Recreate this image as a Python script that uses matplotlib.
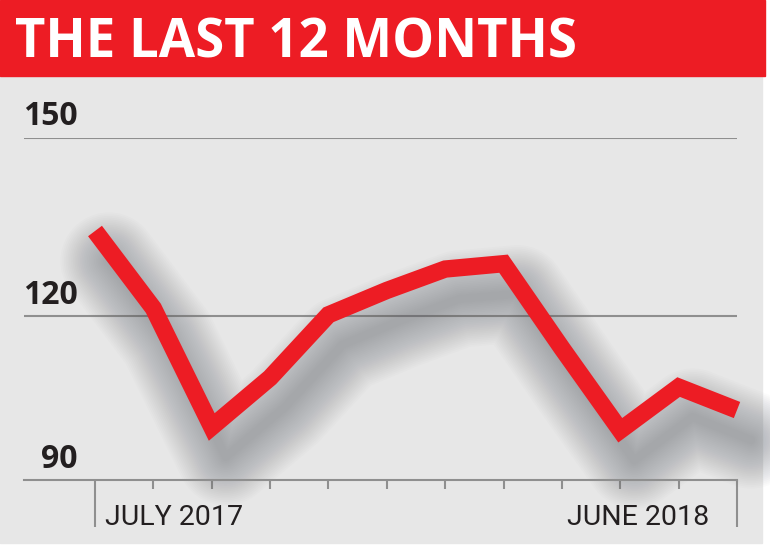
import numpy as np
import matplotlib
matplotlib.use("Agg")
import matplotlib.pyplot as plt
import matplotlib.transforms as mtransforms
from matplotlib.patches import Rectangle

# ---- data ----
title = "THE LAST 12 MONTHS"
months = list(range(12))          # Jul 2017 .. Jun 2018
values = [134.3, 121.3, 99.7, 108.7, 120.2, 124.3, 127.9, 128.8, 114.1, 99.1, 107.0, 102.8]
y_ticks = [150, 120, 90]
y_tick_labels = ["150", "120", "90"]
first_label = "JULY 2017"
last_label = "JUNE 2018"

RED = "#ed1c24"
BG = "#e7e7e7"
GRID = "#8f8f8f"
TXT = "#231f20"

W, H = 770, 548
fig = plt.figure(figsize=(W / 100, H / 100), dpi=100, facecolor="white")

# background panels
fig.patches.append(Rectangle((0, 1 - 543 / H), 762 / W, (543 - 76) / H,
                             transform=fig.transFigure, color=BG, zorder=-5))
fig.patches.append(Rectangle((0, 1 - 76 / H), 765 / W, 76 / H,
                             transform=fig.transFigure, color=RED, zorder=-5))

fig.text(15 / W, 1 - 57 / H, title, color="white", fontsize=38,
         fontweight="bold", family=["Open Sans", "DejaVu Sans"], va="baseline", ha="left")

# plot area
left_px, right_px, top_px, bot_px = 24, 737, 137.7, 480
ax = fig.add_axes([left_px / W, 1 - bot_px / H, (right_px - left_px) / W, (bot_px - top_px) / H])
ax.set_facecolor("none")
ax.set_zorder(2)

lo, hi = 164.0, 178.3   # drawn heights of 90-120 and 120-150 bands


def fwd(v):
    v = np.asarray(v, dtype=float)
    return np.where(v < 120, (v - 120) / 30 * lo, (v - 120) / 30 * hi)


def inv(p):
    p = np.asarray(p, dtype=float)
    return np.where(p < 0, p * 30 / lo + 120, p * 30 / hi + 120)


ax.set_yscale("function", functions=(fwd, inv))
ax.set_ylim(90, 150)
step = (right_px - 95) / 11
ax.set_xlim(-(95 - left_px) / step, 11)

for s in ["top", "right", "left"]:
    ax.spines[s].set_visible(False)
ax.spines["bottom"].set_color(GRID)
ax.spines["bottom"].set_linewidth(1.5)

ax.set_xticks([0, 11])
ax.set_xticks(months[1:-1], minor=True)
ax.tick_params(axis="x", which="major", length=34, width=1.5, color=GRID, labelbottom=False)
ax.tick_params(axis="x", which="minor", length=6.5, width=1.5, color=GRID, labelbottom=False)
ax.set_yticks([])

for v in y_ticks[:-1]:
    ax.axhline(v, color=GRID, lw=1.5, zorder=1)

# y labels
blend = mtransforms.blended_transform_factory(fig.transFigure, ax.transData)
for v, lab in zip(y_ticks, y_tick_labels):
    ax.annotate(lab, xy=(78 / W, v), xycoords=blend, xytext=(0, 9), textcoords="offset points",
                ha="right", va="baseline", fontsize=23, fontweight="bold",
                family=["Open Sans", "DejaVu Sans"], color=TXT, annotation_clip=False)

# x labels
xfont = ["Roboto", "Open Sans", "DejaVu Sans"]
ax.annotate(first_label, xy=(0, 90), xytext=(7.5, -32.5), textcoords="offset points",
            ha="left", va="baseline", fontsize=20.5, family=xfont, color=TXT, annotation_clip=False)
ax.annotate(last_label, xy=(11, 90), xytext=(-20, -32.5), textcoords="offset points",
            ha="right", va="baseline", fontsize=20.5, family=xfont, color=TXT, annotation_clip=False)

# soft shadow (stacked translucent strokes)
shadow_tr = ax.transData + mtransforms.ScaledTranslation(14 / 100, -30 / 100, fig.dpi_scale_trans)
for w in np.linspace(70, 6, 26):
    ax.plot(months, values, color="#6a6f78", lw=w, alpha=0.022, transform=shadow_tr,
            solid_joinstyle="round", solid_capstyle="round", clip_on=False, zorder=2)

# main line
ax.plot(months, values, color=RED, lw=12.5, solid_joinstyle="miter", solid_capstyle="butt",
        clip_on=False, zorder=3)

fig.savefig("out.png", dpi=100, facecolor="white")
